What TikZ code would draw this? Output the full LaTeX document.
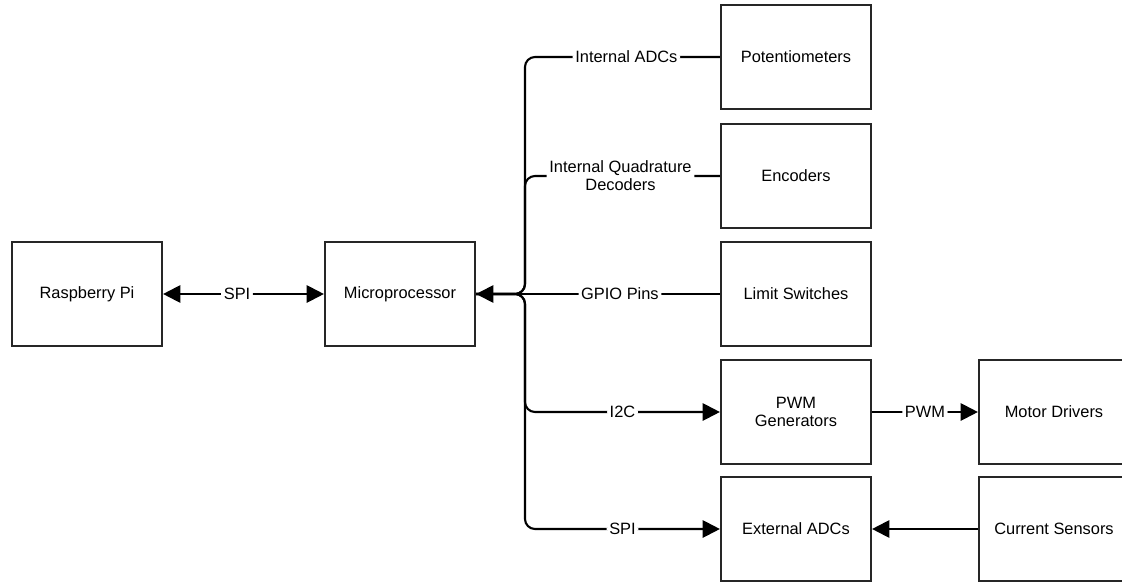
\documentclass[tikz,border=0pt]{standalone}
\usepackage{fontspec}
\setmainfont{Liberation Sans}
\usetikzlibrary{arrows.meta}
\begin{document}
\begin{tikzpicture}[x=0.75pt,y=-0.75pt,
 txt/.style={font=\fontsize{12.3}{13.5}\selectfont, text=black},
 box/.style={txt, draw=black!85, line width=1.6pt, minimum width=112.5pt, minimum height=78pt, inner sep=0pt, align=center},
 conn/.style={line width=1.6pt, rounded corners=7.5pt, draw=black},
 tip/.style={-{Triangle[length=13pt,width=13pt]}},
 lbl/.style={txt, fill=white, inner xsep=2pt, inner ysep=1pt, align=center}]
\useasboundingbox (0,0) rectangle (1122,582);
\node[box] (pi) at (87,294) {Raspberry Pi};
\node[box] (mc) at (400,294) {Microprocessor};
\node[box] (pot) at (796,57) {Potentiometers};
\node[box] (enc) at (796,176) {Encoders};
\node[box] (lim) at (796,294) {Limit Switches};
\node[box] (pwm) at (796,412) {PWM\\Generators};
\node[box] (ext) at (796,529) {External ADCs};
\node[box] (mot) at (1054,412) {Motor Drivers};
\node[box] (cur) at (1054,529) {Current Sensors};
\coordinate (jx) at (525,294);

\draw[conn, {Triangle[length=13pt,width=13pt]}-{Triangle[length=13pt,width=13pt]}] (pi) -- node[lbl, pos=0.46]{SPI} (mc);

\draw[conn] (pot.west) -- node[lbl, pos=0.48]{Internal ADCs} (pot.west -| jx) -- (jx) -- (mc.east);
\draw[conn] (enc.west) -- node[lbl, pos=0.51]{Internal Quadrature\\Decoders} (enc.west -| jx) -- (jx) -- (mc.east);
\draw[conn, tip] (mc.east) -- (jx) -- (jx |- pwm.west) -- node[lbl, pos=0.5]{I2C} (pwm.west);
\draw[conn, tip] (mc.east) -- (jx) -- (jx |- ext.west) -- node[lbl, pos=0.5]{SPI} (ext.west);
\draw[conn, tip] (lim.west) -- node[lbl, pos=0.41]{GPIO Pins} (mc.east);

\draw[conn, tip] (pwm) -- node[lbl]{PWM} (mot);
\draw[conn, tip] (cur) -- (ext);
\end{tikzpicture}
\end{document}
